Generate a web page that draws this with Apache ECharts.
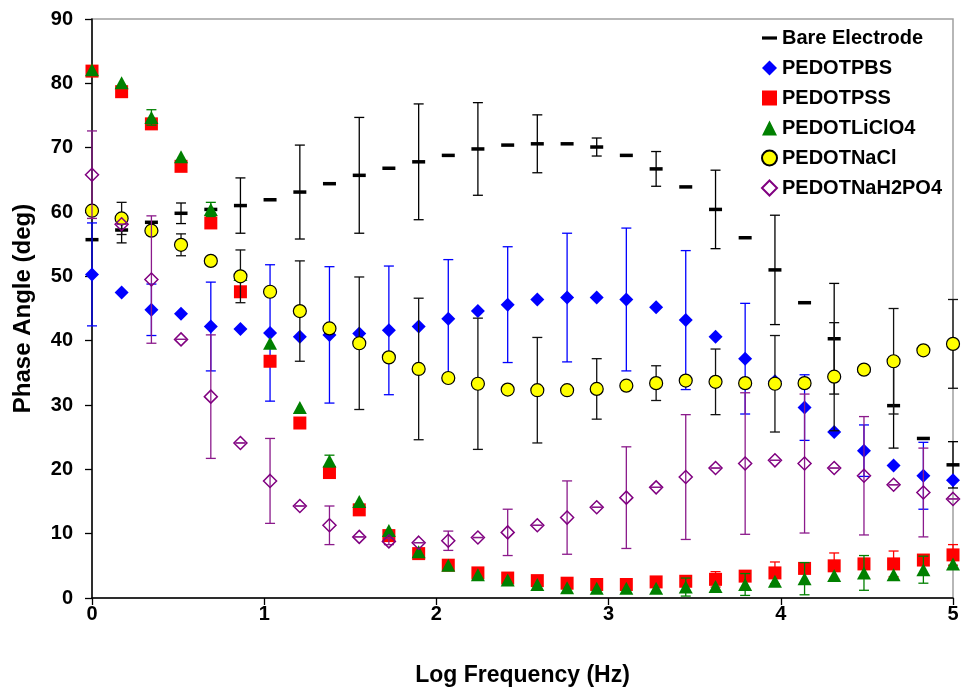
<!DOCTYPE html>
<html>
<head>
<meta charset="utf-8">
<script src="https://cdn.jsdelivr.net/npm/echarts@6/dist/echarts.min.js"></script>
<style>
html,body{margin:0;padding:0;background:#fff;}
#chart{width:965px;height:692px;}
</style>
</head>
<body>
<div id="chart"></div>
<script>
// Log frequency (Hz) positions
var logFreq = [0, 0.172, 0.345, 0.517, 0.690, 0.862, 1.034, 1.207, 1.379, 1.552, 1.724, 1.897, 2.069, 2.241, 2.414, 2.586, 2.759, 2.931, 3.103, 3.276, 3.448, 3.621, 3.793, 3.966, 4.138, 4.310, 4.483, 4.655, 4.828, 5.0];

var seriesNames = ['Bare Electrode', 'PEDOTPBS', 'PEDOTPSS', 'PEDOTLiClO4', 'PEDOTNaCl', 'PEDOTNaH2PO4'];

var bare = [55.7, 57.2, 58.4, 59.8, 60.4, 61.0, 61.9, 63.1, 64.4, 65.7, 66.8, 67.8, 68.8, 69.8, 70.4, 70.6, 70.6, 70.1, 68.8, 66.7, 63.9, 60.4, 56.0, 51.0, 45.9, 40.3, 35.3, 29.9, 24.8, 20.7];
var bareErr = [null, 2.0, null, 1.6, null, 4.3, null, 7.3, null, 9.0, null, 9.0, null, 7.2, null, 4.5, null, 1.4, null, 2.7, null, 6.1, null, 8.5, null, 8.6, null, 6.6, null, 3.6];

var pbs = [50.3, 47.5, 44.8, 44.2, 42.2, 41.8, 41.2, 40.6, 40.9, 41.1, 41.6, 42.2, 43.4, 44.6, 45.6, 46.4, 46.7, 46.7, 46.4, 45.2, 43.2, 40.6, 37.2, 33.7, 29.6, 25.8, 22.9, 20.6, 19.0, 18.3];
var pbsErr = [8.0, null, 4.0, null, 6.9, null, 10.6, null, 10.6, null, 10.0, null, 9.2, null, 9.0, null, 10.0, null, 11.1, null, 10.8, null, 8.6, null, 5.1, null, 4.0, null, 5.2, null];

var pss = [81.9, 78.7, 73.7, 67.1, 58.3, 47.6, 36.8, 27.2, 19.5, 13.7, 9.7, 6.9, 5.1, 3.9, 3.1, 2.7, 2.3, 2.1, 2.1, 2.5, 2.6, 2.9, 3.4, 3.9, 4.6, 5.0, 5.3, 5.3, 5.9, 6.7];
var pssErr = [null, null, null, null, null, null, null, null, null, null, null, null, null, null, null, null, null, null, null, null, null, 1.2, null, 1.7, null, 2.0, null, 2.0, null, 1.6];

var liclo4 = [82.1, 80.1, 74.7, 68.6, 60.4, 50.3, 39.6, 29.6, 21.3, 15.0, 10.5, 7.2, 5.1, 3.6, 2.8, 2.1, 1.6, 1.5, 1.5, 1.5, 1.7, 1.8, 2.1, 2.6, 3.0, 3.5, 3.9, 3.6, 4.4, 5.3];
var liclo4Err = [null, null, 1.2, null, 1.1, null, null, null, 0.9, null, null, null, null, null, null, null, null, null, null, null, 1.4, null, 1.7, null, 2.5, null, 2.7, null, 2.1, null];

var nacl = [60.2, 59.0, 57.1, 54.9, 52.4, 50.0, 47.6, 44.6, 41.9, 39.6, 37.4, 35.6, 34.2, 33.3, 32.4, 32.3, 32.3, 32.5, 33.0, 33.4, 33.8, 33.6, 33.4, 33.3, 33.4, 34.4, 35.5, 36.8, 38.5, 39.5];
var naclErr = [null, 2.5, null, 1.7, null, 4.1, null, 7.8, null, 10.3, null, 11.0, null, 10.2, null, 8.2, null, 4.7, null, 2.7, null, 5.1, null, 7.5, null, 8.4, null, 8.2, null, 6.9];

var h2po4 = [65.8, 58.1, 49.5, 40.2, 31.3, 24.1, 18.2, 14.3, 11.3, 9.5, 8.8, 8.6, 8.9, 9.4, 10.2, 11.3, 12.5, 14.1, 15.6, 17.2, 18.8, 20.2, 20.9, 21.4, 20.9, 20.2, 19.0, 17.6, 16.4, 15.4];
var h2po4Err = [6.8, 0, 9.9, 0, 9.6, 0, 6.6, 0, 3.0, 0, 0.5, 0, 1.5, 0, 3.6, 0, 5.7, 0, 7.9, 0, 9.7, 0, 11.0, 0, 10.8, 0, 9.2, 0, 6.9, 0];

var xTicks = [0, 1, 2, 3, 4, 5];
var yTicks = [0, 10, 20, 30, 40, 50, 60, 70, 80, 90];

var FONT = "'Liberation Sans', Arial, sans-serif";

function pts(vals) {
  return vals.map(function (v, i) { return [logFreq[i], v]; });
}
function errPts(vals, errs) {
  var out = [];
  for (var i = 0; i < vals.length; i++) {
    if (errs[i] !== null && errs[i] !== undefined) {
      out.push([logFreq[i], vals[i] - errs[i], vals[i] + errs[i]]);
    }
  }
  return out;
}
function errSeries(vals, errs, color, z) {
  return {
    type: 'custom',
    silent: true,
    z: z,
    data: errPts(vals, errs),
    encode: { x: 0, y: [1, 2] },
    renderItem: function (params, api) {
      var x = api.value(0), lo = api.value(1), hi = api.value(2);
      var p1 = api.coord([x, hi]);
      var p2 = api.coord([x, lo]);
      var w = 5;
      var st = { stroke: color, lineWidth: 1.3, fill: null };
      return {
        type: 'group',
        children: [
          { type: 'line', shape: { x1: p1[0], y1: p1[1], x2: p2[0], y2: p2[1] }, style: st },
          { type: 'line', shape: { x1: p1[0] - w, y1: p1[1], x2: p1[0] + w, y2: p1[1] }, style: st },
          { type: 'line', shape: { x1: p2[0] - w, y1: p2[1], x2: p2[0] + w, y2: p2[1] }, style: st }
        ]
      };
    }
  };
}

var chart = echarts.init(document.getElementById('chart'), null, { renderer: 'canvas' });

var dashIcon = 'path://M0,0M14,14M0,5.5H14V8.5H0Z';

var option = {
  animation: false,
  backgroundColor: '#ffffff',
  grid: {
    left: 92, right: 12, top: 19, bottom: 94,
    show: true, borderColor: '#a0a0a0', borderWidth: 1.5, backgroundColor: 'transparent'
  },
  legend: {
    orient: 'vertical',
    left: 756, top: 23,
    itemWidth: 15, itemHeight: 15,
    itemGap: 10, itemTextGap: 6,
    textStyle: { fontFamily: FONT, fontWeight: 'bold', fontSize: 20, color: '#000', lineHeight: 20 },
    data: [
      { name: seriesNames[0], icon: dashIcon },
      { name: seriesNames[1] },
      { name: seriesNames[2] },
      { name: seriesNames[3] },
      { name: seriesNames[4] },
      { name: seriesNames[5] }
    ]
  },
  xAxis: {
    type: 'value', min: xTicks[0], max: xTicks[xTicks.length - 1], interval: 1,
    name: 'Log Frequency (Hz)', nameLocation: 'middle', nameGap: 66,
    nameTextStyle: { fontFamily: FONT, fontWeight: 'bold', fontSize: 23, color: '#000' },
    axisLine: { lineStyle: { color: '#000', width: 1.5 } },
    axisTick: { show: true, inside: false, length: 7, lineStyle: { color: '#000', width: 1.3 } },
    axisLabel: { fontFamily: FONT, fontWeight: 'bold', fontSize: 20, color: '#000', margin: 6 },
    splitLine: { show: false }
  },
  yAxis: {
    type: 'value', min: yTicks[0], max: yTicks[yTicks.length - 1], interval: 10,
    name: 'Phase Angle (deg)', nameLocation: 'middle', nameGap: 57, nameRotate: 90,
    nameTextStyle: { fontFamily: FONT, fontWeight: 'bold', fontSize: 24, color: '#000' },
    axisLine: { show: true, lineStyle: { color: '#000', width: 1.5 } },
    axisTick: { show: true, inside: false, length: 7, lineStyle: { color: '#000', width: 1.3 } },
    axisLabel: { fontFamily: FONT, fontWeight: 'bold', fontSize: 20, color: '#000', margin: 19 },
    splitLine: { show: false }
  },
  series: [
    errSeries(bare, bareErr, '#000000', 2),
    {
      name: seriesNames[0], type: 'scatter', z: 2, data: pts(bare),
      symbol: 'rect', symbolSize: [13, 3.5],
      itemStyle: { color: '#000000', opacity: 1 }
    },
    errSeries(pbs, pbsErr, '#0000ff', 3),
    {
      name: seriesNames[1], type: 'scatter', z: 3, data: pts(pbs),
      symbol: 'diamond', symbolSize: 14,
      itemStyle: { color: '#0000ff', opacity: 1 }
    },
    errSeries(pss, pssErr, '#ff0000', 4),
    {
      name: seriesNames[2], type: 'scatter', z: 4, data: pts(pss),
      symbol: 'rect', symbolSize: 13,
      itemStyle: { color: '#ff0000', opacity: 1 }
    },
    errSeries(liclo4, liclo4Err, '#008000', 5),
    {
      name: seriesNames[3], type: 'scatter', z: 5, data: pts(liclo4),
      symbol: 'triangle', symbolSize: [14, 13],
      itemStyle: { color: '#008000', opacity: 1 }
    },
    errSeries(nacl, naclErr, '#111111', 6),
    {
      name: seriesNames[4], type: 'scatter', z: 6, data: pts(nacl),
      symbol: 'circle', symbolSize: 13,
      itemStyle: { color: '#ffff00', borderColor: '#000000', borderWidth: 1.2, opacity: 1 }
    },
    errSeries(h2po4, h2po4Err, '#8b1a8b', 7),
    {
      name: seriesNames[5], type: 'scatter', z: 7, data: pts(h2po4),
      symbol: 'diamond', symbolSize: 13,
      itemStyle: { color: 'rgba(255,255,255,0)', borderColor: '#800080', borderWidth: 1.5, opacity: 1 }
    }
  ]
};
chart.setOption(option);
</script>
</body>
</html>
